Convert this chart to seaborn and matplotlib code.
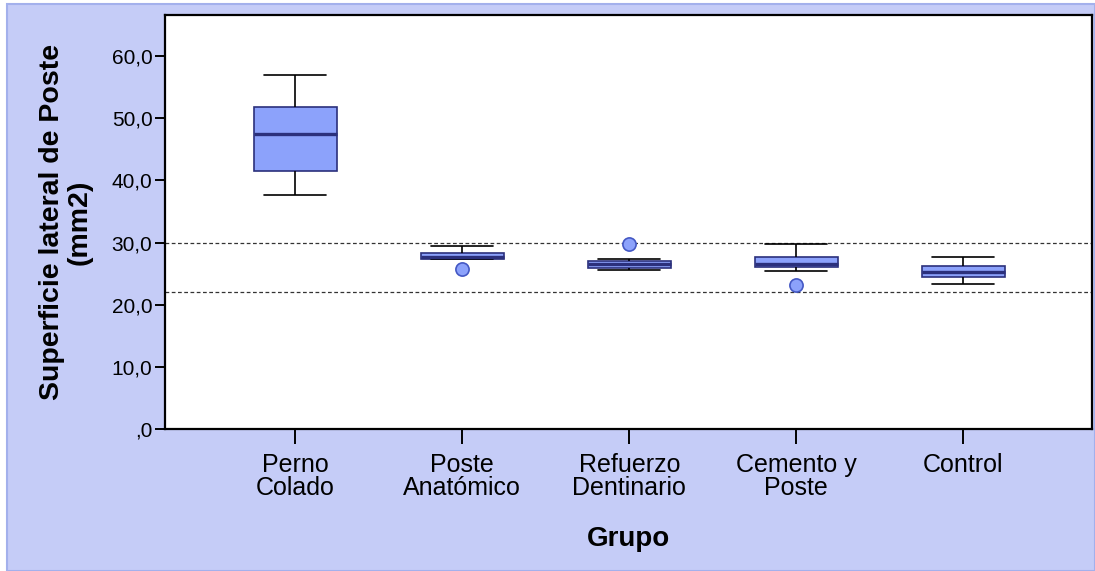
import pandas as pd
import seaborn as sns
import matplotlib.pyplot as plt
from matplotlib.patches import Rectangle
from matplotlib.ticker import FuncFormatter

# Datos (cada grupo: puntos que reproducen cuartiles, bigotes y atipicos)
grupos = ["Perno\nColado", "Poste\nAnatómico", "Refuerzo\nDentinario", "Cemento y\nPoste", "Control"]
perno_colado = [37.6, 39.5, 41.5, 44.5, 47.4, 49.5, 51.8, 54.0, 56.9]
poste_anatomico = [25.8, 27.3, 27.35, 27.5, 27.7, 28.0, 28.25, 28.8, 29.4]
refuerzo_dentinario = [25.5, 25.7, 25.9, 26.2, 26.5, 26.8, 27.0, 27.4, 29.8]
cemento_poste = [23.1, 25.4, 26.0, 26.2, 26.5, 27.0, 27.6, 28.5, 29.7]
control = [23.4, 23.9, 24.4, 24.9, 25.3, 25.8, 26.3, 27.0, 27.6]
lineas_ref = [30.0, 22.0]
y_ticks = [0, 10, 20, 30, 40, 50, 60]

valores = [perno_colado, poste_anatomico, refuerzo_dentinario, cemento_poste, control]
df = pd.DataFrame({
    "Grupo": [g for g, v in zip(grupos, valores) for _ in v],
    "sup": [x for v in valores for x in v],
})

sns.set_style("white")
plt.rcParams["font.family"] = ["Liberation Sans", "DejaVu Sans"]
plt.rcParams["text.color"] = "black"
plt.rcParams["axes.labelcolor"] = "black"
plt.rcParams["xtick.color"] = "black"
plt.rcParams["ytick.color"] = "black"

fig = plt.figure(figsize=(10.95, 5.71), dpi=100, facecolor="white")
fig.patches.append(Rectangle((7 / 1095, 0), 1 - 7 / 1095, 567 / 571, transform=fig.transFigure,
                             facecolor="#C5CCF7", edgecolor="#A3B0EC", linewidth=1.5, zorder=-1))
ax = fig.add_axes([165 / 1095, 1 - 429 / 571, (1092 - 165) / 1095, (429 - 15) / 571])
ax.set_facecolor("white")

navy = "#2B307C"
sns.boxplot(
    data=df, x="Grupo", y="sup", order=grupos, width=0.5, ax=ax,
    capwidths=0.37,
    boxprops=dict(facecolor="#8CA2FB", edgecolor=navy, linewidth=1.2),
    medianprops=dict(color=navy, linewidth=2.4),
    whiskerprops=dict(color="black", linewidth=1.2),
    capprops=dict(color="black", linewidth=1.2),
    flierprops=dict(marker="o", markerfacecolor="#8CA2FB", markeredgecolor="#4458C4",
                    markersize=9.5, markeredgewidth=1.2),
)

for y in lineas_ref:
    ax.axhline(y, color="#333333", linestyle=(0, (3, 2)), linewidth=0.9, zorder=0)

ax.set_xlim(-0.78, 4.77)
ax.set_ylim(0, 66.6)
ax.set_yticks(y_ticks)
ax.yaxis.set_major_formatter(FuncFormatter(lambda v, p: f"{v:.1f}".replace(".", ",").lstrip("0") if v == 0 else f"{v:.1f}".replace(".", ",")))

for s in ax.spines.values():
    s.set_visible(True)
    s.set_color("black")
    s.set_linewidth(1.6)

ax.tick_params(axis="y", direction="out", length=7, width=1.4, labelsize=15, pad=2, left=True)
ax.tick_params(axis="x", direction="out", length=11, width=1.4, labelsize=18, pad=6, bottom=True)
for t in ax.get_xticklabels():
    t.set_linespacing(0.95)

ax.set_xlabel("Grupo", fontsize=20, fontweight="bold", labelpad=19)
ax.set_ylabel("Superficie lateral de Poste\n(mm2)", fontsize=20.5, fontweight="bold",
              labelpad=14, linespacing=1.05)

plt.savefig("out.png", dpi=100)
